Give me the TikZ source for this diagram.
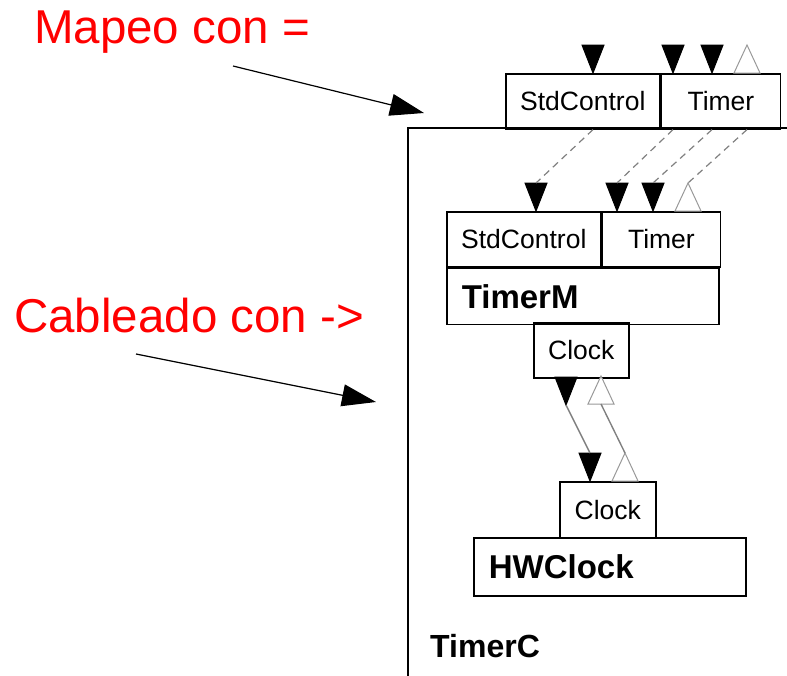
\documentclass[tikz,border=0pt]{standalone}
\usepackage{fontspec}
\setmainfont{Liberation Sans}
\usetikzlibrary{arrows.meta,positioning}

\tikzset{
    pics/tridown/.style={code={
        \filldraw[black,line width=1pt] (0,0) -- (-11,-28) -- (11,-28) -- cycle;
        \coordinate (-tip) at (0,0);
        \coordinate (-base) at (0,-28);
    }},
    pics/triup/.style={code={
        \filldraw[draw=gray!80,fill=white,line width=1pt] (-13,0) -- (13,0) -- (0,-28) -- cycle;
        \coordinate (-base) at (0,0);
        \coordinate (-apex) at (0,-28);
    }}
}

\begin{document}
\begin{tikzpicture}[
        x=1pt, y=-1pt,
        every node/.style={font=\fontsize{26.5}{30}\selectfont},
        box/.style={draw, line width=1.6pt, minimum height=55pt, inner sep=0pt, anchor=north west},
        bigbox/.style={box, align=left, inner xsep=15pt, text width=242pt,
            font=\fontsize{33}{36}\selectfont\bfseries},
        mapline/.style={draw=gray, dashed, dash pattern=on 7pt off 5pt, line width=1.2pt},
        wire/.style={draw=gray, line width=1.4pt},
        callout/.style={line width=1.2pt, -{Triangle[length=34pt,width=22pt]}},
        note/.style={text=red, anchor=base west, inner sep=0pt, font=\fontsize{47.5}{54}\selectfont}
    ]
    \useasboundingbox (0,0) rectangle (787,675);

    \draw[line width=1.8pt] (790,128) -- (408,128) -- (408,678);
    \node[anchor=west, font=\fontsize{32}{36}\selectfont\bfseries, inner sep=0pt] (timerc) at (430,646) {TimerC};

    \node[box, minimum width=154pt] (topstd) at (505,73) {StdControl};
    \node[box, minimum width=119pt] (toptimer) at (topstd.north east) {Timer};

    \node[box, minimum width=154pt] (mstd) at (446,211) {StdControl};
    \node[box, minimum width=118pt] (mtimer) at (mstd.north east) {Timer};
    \node[bigbox, minimum height=56pt] (timerm) at (mstd.south west) {TimerM};
    \node[box, minimum width=95pt] (clocka) at (533,322) {Clock};

    \node[box, minimum width=96pt, minimum height=56pt] (clockb) at (559,481) {Clock};
    \node[bigbox, minimum height=58pt] (hwclock) at (473,537) {HWClock};

    \pic (s1) at (593,73) {tridown};
    \pic (s2) at (673,73) {tridown};
    \pic (s3) at (712,73) {tridown};
    \pic (s4) at (747,73) {triup};

    \pic (m1) at (536,211) {tridown};
    \pic (m2) at (617,211) {tridown};
    \pic (m3) at (653,211) {tridown};
    \pic (m4) at (688,211) {triup};

    \draw[mapline] (s1-tip |- topstd.south) -- (m1-base);
    \draw[mapline] (s2-tip |- topstd.south) -- (m2-base);
    \draw[mapline] (s3-tip |- topstd.south) -- (m3-base);
    \draw[mapline] (s4-base |- topstd.south) -- (m4-apex);

    \pic (c1) at (566,405) {tridown};
    \pic (c2) at (590,481) {tridown};
    \pic (c3) at (601,404) {triup};
    \pic (c4) at (625,481) {triup};

    \draw[wire] (c1-tip) -- (c2-base);
    \draw[wire] (c3-base) -- (c4-apex);

    \node[note] (mapeo) at (34,43) {Mapeo con =};
    \node[note] (cableado) at (14,332) {Cableado con ->};

    \coordinate (mapfrom) at (233,66);
    \coordinate (mapto) at (424,113);
    \coordinate (cabfrom) at (136,354);
    \coordinate (cabto) at (376,402);
    \draw[callout] (mapfrom) -- (mapto);
    \draw[callout] (cabfrom) -- (cabto);
\end{tikzpicture}
\end{document}
